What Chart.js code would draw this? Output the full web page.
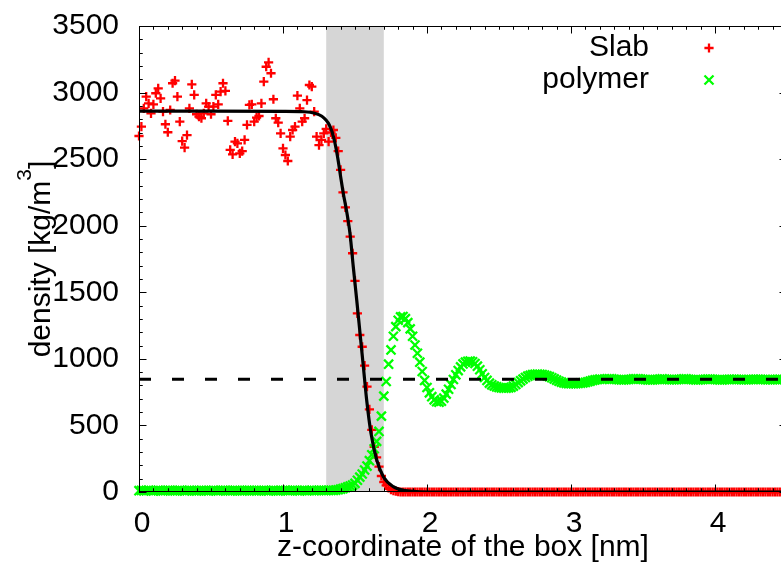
<!DOCTYPE html>
<html>
<head>
<meta charset="utf-8">
<script src="https://cdn.jsdelivr.net/npm/chart.js@4"></script>
<style>
  html, body { margin: 0; padding: 0; background: #fff; overflow: hidden; }
  #wrap { position: absolute; left: 0; top: 0; width: 800px; height: 563px; }
</style>
</head>
<body>
<div id="wrap"><canvas id="density" width="800" height="563"></canvas></div>
<script>
// density profiles along z, one bin every 1/60 nm starting at z = 0
const dz = 1 / 60;

// slab (red +)
const slabRho = [
  2674, 2744, 2882, 2969, 2919, 2844, 2912, 2995, 3032, 2957,
  2857, 2762, 2702, 2869, 3070, 3090, 2969, 2782, 2636, 2586,
  2681, 2882, 3062, 2982, 2837, 2819, 2807, 2844, 2919, 2894,
  2837, 2894, 2982, 2912, 3007, 3070, 3012, 2787, 2569, 2536,
  2631, 2619, 2544, 2560, 2644, 2757, 2907, 2912, 2782, 2812,
  2824, 2919, 3082, 3194, 3227, 3145, 2950, 2807, 2774, 2694,
  2581, 2531, 2486, 2669, 2719, 2744, 2977, 2882, 2782, 2807,
  2944, 3057, 3045, 2857, 2669, 2606, 2644, 2694, 2727,
  2631, 2700, 2719, 2659, 2560, 2420, 2250, 2138, 2035, 1918,
  1793, 1585, 1342, 1179, 1091, 949, 791, 621, 466, 340,
  260, 190, 120, 75, 50, 30, 18, 10, 6, 3,
  0, 0, 0, 0, 0, 0, 0, 0, 0, 0, 0, 0, 0, 0, 0, 0, 0, 0, 0, 0,
  0, 0, 0, 0, 0, 0, 0, 0, 0, 0, 0, 0, 0, 0, 0, 0, 0, 0, 0, 0,
  0, 0, 0, 0, 0, 0, 0, 0, 0, 0, 0, 0, 0, 0, 0, 0, 0, 0, 0, 0,
  0, 0, 0, 0, 0, 0, 0, 0, 0, 0, 0, 0, 0, 0, 0, 0, 0, 0, 0, 0,
  0, 0, 0, 0, 0, 0, 0, 0, 0, 0, 0, 0, 0, 0, 0, 0, 0, 0, 0, 0,
  0, 0, 0, 0, 0, 0, 0, 0, 0, 0, 0, 0, 0, 0, 0, 0, 0, 0, 0, 0,
  0, 0, 0, 0, 0, 0, 0, 0, 0, 0, 0, 0, 0, 0, 0, 0, 0, 0, 0, 0,
  0, 0, 0, 0, 0, 0, 0, 0, 0, 0, 0, 0, 0, 0, 0, 0, 0, 0, 0, 0,
  0, 0
];

// polymer (green x)
const polymerRho = [
  10, 12, 9, 11, 13, 10, 8, 11, 12, 10,
  9, 11, 13, 12, 10, 9, 10, 12, 11, 9,
  10, 13, 11, 10, 8, 10, 12, 11, 10, 9,
  11, 12, 10, 9, 11, 13, 12, 10, 9, 10,
  12, 11, 10, 9, 10, 12, 13, 11, 10, 9,
  10, 11, 12, 10, 9, 11, 12, 10, 9, 10,
  11, 12, 10, 11, 13, 12, 10, 9, 11, 12,
  10, 11, 12, 10, 11, 12, 13, 12, 11, 12,
  12,
  12, 14, 17, 21, 26, 32, 38,
  45, 52, 65, 88, 112, 135, 165, 195, 235, 280,
  325, 380, 455, 570, 720, 830, 960, 1067, 1170, 1242,
  1290, 1315, 1318, 1302, 1272, 1225, 1170, 1104, 1042, 975,
  905, 838, 785, 745, 716, 692, 678, 674, 682, 705,
  735, 772, 808, 845, 880, 912, 940, 962, 975, 982,
  984, 978, 965, 945, 918, 888, 860, 838, 818, 805,
  796, 790, 785, 781, 780, 780, 782, 786, 795, 808,
  822, 835, 848, 860, 870, 876, 881, 884, 885, 884,
  882, 878, 872, 866, 858, 849, 840, 832, 825, 820,
  816, 814, 813, 813, 814, 816, 818, 820, 823, 828,
  833, 838, 842, 845, 848,
  846, 848, 849, 850, 849, 847, 845, 843, 842, 842,
  843, 845, 847, 849, 850, 850, 848, 846, 844, 842,
  841, 842, 844, 846, 848, 849, 848, 846, 844, 843,
  843, 844, 846, 848, 849, 849, 847, 845, 843, 842,
  842, 843, 845, 847, 848, 848, 847, 845, 843, 842,
  842, 843, 845, 846, 847, 847, 846, 845, 844, 843,
  843, 844, 845, 846, 847, 847, 846, 845, 844, 843,
  843, 844, 845, 846, 846, 845, 844, 843
];

// fitted slab profile (black curve)
const fitZ = [0, 0.5, 1.0, 1.15, 1.22, 1.27, 1.30, 1.32, 1.34, 1.36, 1.38, 1.40, 1.42, 1.44,
  1.465, 1.488, 1.512, 1.535, 1.558, 1.581, 1.611, 1.651, 1.697, 1.766, 1.85, 1.95, 2.1, 4.5];
const fitRho = [2860, 2860, 2859, 2856, 2845, 2822, 2792, 2760, 2708, 2625, 2510, 2370, 2235, 2120,
  1943, 1692, 1442, 1192, 941, 691, 441, 240, 115, 40, 10, 2, 0, 0];

// bulk polymer density (dashed)
const meanZ = [0, 4.5];
const meanRho = [846, 846];

// interface region (grey band)
const bandZ = [1.3, 1.7];

const xRange = [0, 4.5];
const yRange = [0, 3500];
const xMinor = 0.1, yMinor = 100;
const xMajor = 1, yMajor = 500;

const FONT = "'Liberation Sans', Arial, Helvetica, sans-serif";
Chart.defaults.font.family = FONT;
Chart.defaults.color = '#000';
Chart.defaults.animation = false;

const toPts = (zs, vs) => vs.map((v, i) => ({x: zs ? zs[i] : i * dz, y: v}));

const band = {
  id: 'band',
  beforeDatasetsDraw(chart) {
    const {ctx, chartArea: a, scales: {x}} = chart;
    const x0 = x.getPixelForValue(bandZ[0]);
    const x1 = x.getPixelForValue(bandZ[1]);
    ctx.save();
    ctx.fillStyle = '#d6d6d6';
    ctx.fillRect(x0, a.top, x1 - x0, a.bottom - a.top);
    ctx.restore();
  }
};

// border box with inward tics on all four sides
const frame = {
  id: 'frame',
  afterDatasetsDraw(chart) {
    const {ctx, chartArea: a, scales: {x, y}} = chart;
    ctx.save();
    ctx.strokeStyle = '#000';
    ctx.lineWidth = 1;
    ctx.strokeRect(a.left + 0.5, a.top + 0.5, a.right - a.left - 1, a.bottom - a.top - 1);
    ctx.beginPath();
    const nx = Math.round((xRange[1] - xRange[0]) / xMinor);
    for (let k = 0; k <= nx; k++) {
      const v = xRange[0] + k * xMinor;
      const px = Math.round(x.getPixelForValue(v)) + 0.5;
      const len = Math.abs(v / xMajor - Math.round(v / xMajor)) < 1e-6 ? 7.5 : 3.75;
      ctx.moveTo(px, a.bottom); ctx.lineTo(px, a.bottom - len);
      ctx.moveTo(px, a.top); ctx.lineTo(px, a.top + len);
    }
    const ny = Math.round((yRange[1] - yRange[0]) / yMinor);
    for (let k = 0; k <= ny; k++) {
      const v = yRange[0] + k * yMinor;
      const py = Math.round(y.getPixelForValue(v)) + 0.5;
      const len = v % yMajor === 0 ? 7.5 : 3.75;
      ctx.moveTo(a.left, py); ctx.lineTo(a.left + len, py);
      ctx.moveTo(a.right, py); ctx.lineTo(a.right - len, py);
    }
    ctx.stroke();
    ctx.restore();
  }
};

// y axis title, drawn by hand so the exponent can be raised
const yTitle = {
  id: 'yTitle',
  afterDraw(chart) {
    const {ctx, chartArea: a} = chart;
    const parts = [
      ['density [kg/m', '30px ' + FONT, 0],
      ['3', '21px ' + FONT, 19],
      [']', '30px ' + FONT, 0]
    ];
    ctx.save();
    let total = 0;
    parts.forEach(p => { ctx.font = p[1]; total += ctx.measureText(p[0]).width; });
    ctx.translate(50, (a.top + a.bottom) / 2);
    ctx.rotate(-Math.PI / 2);
    ctx.fillStyle = '#000';
    ctx.textAlign = 'left';
    ctx.textBaseline = 'alphabetic';
    let cx = -total / 2;
    parts.forEach(p => {
      ctx.font = p[1];
      ctx.fillText(p[0], cx, -p[2]);
      cx += ctx.measureText(p[0]).width;
    });
    ctx.restore();
  }
};

// key in the top right corner: text first, sample point after it
const key = {
  id: 'key',
  afterDraw(chart) {
    const {ctx, chartArea: a} = chart;
    ctx.save();
    ctx.font = '30px ' + FONT;
    ctx.textAlign = 'right';
    ctx.textBaseline = 'middle';
    ctx.fillStyle = '#000';
    chart.data.datasets.filter(d => d.inKey).forEach((d, i) => {
      const yy = a.top + 22 + i * 32;
      ctx.fillText(d.label, a.right - 138, yy);
      ctx.strokeStyle = d.borderColor;
      Chart.helpers.drawPoint(ctx, {
        pointStyle: d.pointStyle, radius: d.pointRadius, borderWidth: d.pointBorderWidth, rotation: 0
      }, a.right - 78, yy);
    });
    ctx.restore();
  }
};

// keep the plot box fixed, without the extra room chart.js leaves for end labels
const noPad = s => { s.paddingTop = 0; s.paddingBottom = 0; s.paddingLeft = 0; s.paddingRight = 0; };

new Chart(document.getElementById('density'), {
  type: 'scatter',
  data: {
    datasets: [
      {
        label: 'Slab', inKey: true, order: 4, clip: false,
        data: toPts(null, slabRho),
        pointStyle: 'cross', pointRadius: 4.6, pointBorderWidth: 2.3,
        borderColor: '#ff0000', backgroundColor: '#ff0000'
      },
      {
        label: 'polymer', inKey: true, order: 3, clip: false,
        data: toPts(null, polymerRho),
        pointStyle: 'crossRot', pointRadius: 6.4, pointBorderWidth: 2.3,
        borderColor: '#00ff00', backgroundColor: '#00ff00'
      },
      {
        label: 'fit', order: 2, showLine: true,
        data: toPts(fitZ, fitRho),
        borderColor: '#000', borderWidth: 3.2, pointRadius: 0,
        cubicInterpolationMode: 'monotone'
      },
      {
        label: 'mean', order: 1, showLine: true,
        data: toPts(meanZ, meanRho),
        borderColor: '#000', borderWidth: 3, pointRadius: 0,
        borderDash: [12, 21]
      }
    ]
  },
  options: {
    responsive: false,
    layout: { padding: { left: 0, right: 13, top: 26, bottom: 0 } },
    plugins: { legend: { display: false }, tooltip: { enabled: false } },
    scales: {
      x: {
        type: 'linear', min: xRange[0], max: xRange[1],
        grid: { display: false, drawTicks: false },
        border: { display: false },
        ticks: { stepSize: xMajor, includeBounds: false, padding: 14, labelOffset: 3,
          font: { size: 30 }, callback: v => String(v) },
        title: { display: true, text: 'z-coordinate of the box [nm]',
          font: { size: 30, lineHeight: 1 }, padding: { top: 0, bottom: 0 } },
        afterFit: s => { s.height = 71; noPad(s); }
      },
      y: {
        type: 'linear', min: yRange[0], max: yRange[1],
        grid: { display: false, drawTicks: false },
        border: { display: false },
        ticks: { stepSize: yMajor, padding: 20, font: { size: 30 }, callback: v => String(v) },
        title: { display: false },
        afterFit: s => { s.width = 139; noPad(s); }
      }
    }
  },
  plugins: [band, frame, yTitle, key]
});
</script>
</body>
</html>
